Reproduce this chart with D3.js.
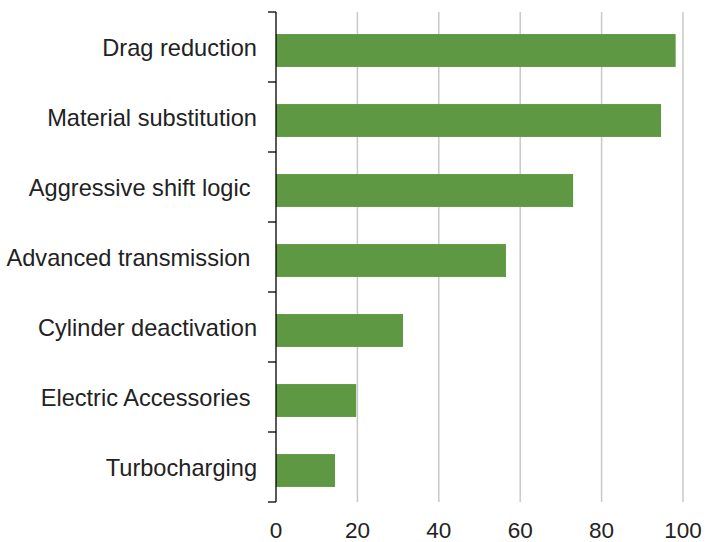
<!DOCTYPE html>
<html><head><meta charset="utf-8">
<script src="https://cdn.jsdelivr.net/npm/d3@7"></script>
<style>body{margin:0;background:#fff}text{font-family:"Liberation Sans",Arial,sans-serif;white-space:pre}</style>
</head><body><svg id="c" width="705" height="542"></svg>
<script>
const categories = ["Drag reduction","Material substitution","Aggressive shift logic ","Advanced transmission ","Cylinder deactivation","Electric Accessories ","Turbocharging"];
const values = [98.2, 94.6, 73.0, 56.5, 31.2, 19.7, 14.5];
const xTicks = [0, 20, 40, 60, 80, 100];

const svg = d3.select("#c");
const x = d3.scaleLinear().domain([0, 100]).range([276, 683]);
const y = d3.scaleBand().domain(categories).range([12, 502]).paddingInner(0.53).paddingOuter(0.265);
const yb = d3.scaleBand().domain(categories).range([12, 502]);

// gridlines
svg.append("g").selectAll("line").data(xTicks.filter(d => d > 0)).join("line")
  .attr("x1", d => x(d)).attr("x2", d => x(d)).attr("y1", 12).attr("y2", 502)
  .attr("stroke", "#c8c8c8").attr("stroke-width", 1.5);

// bars
svg.append("g").selectAll("rect").data(categories).join("rect")
  .attr("x", x(0)).attr("y", d => y(d) + 3.5).attr("height", y.bandwidth())
  .attr("width", (d, i) => x(values[i]) - x(0)).attr("fill", "#5f9842");

// y axis line and ticks
const ax = svg.append("g");
ax.append("line").attr("x1", 276).attr("x2", 276).attr("y1", 12).attr("y2", 502).attr("stroke", "#000").attr("stroke-width", 1.3);
const bounds = categories.map(c => yb(c)).concat([502]);
ax.selectAll("line.t").data(bounds).join("line").attr("class", "t")
  .attr("x1", 268).attr("x2", 276).attr("y1", d => d).attr("y2", d => d)
  .attr("stroke", "#000").attr("stroke-width", 1.3);

// category labels
svg.append("g").selectAll("text").data(categories).join("text")
  .attr("x", 257).attr("y", d => yb(d) + yb.bandwidth() / 2 + 1)
  .attr("dy", "0.35em").attr("text-anchor", "end")
  .attr("font-size", 23.6).attr("fill", "#222").text(d => d);

// x tick labels
svg.append("g").selectAll("text").data(xTicks).join("text")
  .attr("x", d => x(d)).attr("y", 537.5).attr("text-anchor", "middle")
  .attr("font-size", 22.5).attr("fill", "#222").text(d => d);
</script></body></html>
